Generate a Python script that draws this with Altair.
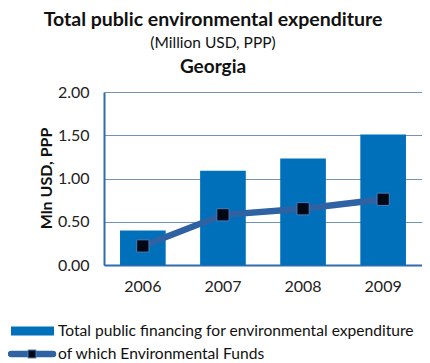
import altair as alt
import pandas as pd

years = ["2006", "2007", "2008", "2009"]
total_financing = [0.40, 1.09, 1.23, 1.51]
env_funds = [0.22, 0.58, 0.65, 0.76]
y_ticks = [0.0, 0.5, 1.0, 1.5, 2.0]

title_main = "Total public environmental expenditure"
title_sub = "(Million USD, PPP)"
title_country = "Georgia"
y_title = "Mln USD, PPP"
legend_bar = "Total public financing for environmental expenditure"
legend_line = "of which Environmental Funds"

FONT = "Lato"
BAR = "#0070BA"
LINE = "#2E62A3"
GRID = "#6F93BD"
AXIS = "#2F6BAE"

df = pd.DataFrame({"year": years, "total": total_financing, "funds": env_funds})

x = alt.X("year:N", title=None,
          scale=alt.Scale(paddingInner=0.43, paddingOuter=0.2),
          axis=alt.Axis(labelAngle=0, labelFontSize=16, labelFont=FONT, labelColor="#222",
                        labelPadding=13, ticks=False, domainColor=AXIS, domainWidth=2))
y_axis = alt.Axis(values=y_ticks, format=".2f", labelFontSize=16, labelFont=FONT,
                  labelColor="#222", labelPadding=15, ticks=False,
                  domainColor=AXIS, domainWidth=2, gridColor=GRID, gridWidth=1.2,
                  title=y_title, titleFont=FONT, titleFontSize=16, titleFontWeight="bold",
                  titleColor="#111", titleAngle=-90, titleX=-58, titleY=86,
                  titleAlign="center", titleBaseline="middle")
yscale = alt.Scale(domain=[0, 2])

bars = alt.Chart(df).mark_bar(color=BAR).encode(
    x=x, y=alt.Y("total:Q", scale=yscale, axis=y_axis))

line = alt.Chart(df).mark_line(color=LINE, strokeWidth=6.5).encode(
    x=alt.X("year:N"), y=alt.Y("funds:Q", scale=yscale))

pts = alt.Chart(df).mark_point(shape="square", filled=True, fill="#020716",
                               stroke="#4A7EBB", strokeWidth=1, opacity=1, size=150).encode(
    x=alt.X("year:N"), y=alt.Y("funds:Q", scale=yscale))

def txt(t, xv, yv, size, weight="normal", align="center", baseline="middle"):
    return alt.Chart(pd.DataFrame({"t": [t]})).mark_text(
        font=FONT, fontSize=size, fontWeight=weight, color="#111",
        align=align, baseline=baseline).encode(
        text="t:N", x=alt.value(xv), y=alt.value(yv))

titles = [
    txt(title_main, 109, -72, 19.5, "bold"),
    txt(title_sub, 109, -49, 15.5),
    txt(title_country, 109, -25, 19, "bold"),
    txt(legend_bar, -46, 239, 15.6, align="left"),
    txt(legend_line, -46, 262, 15.6, align="left"),
]

leg_rect = alt.Chart(pd.DataFrame({"a": [0]})).mark_rect(color=BAR).encode(
    x=alt.value(-93), x2=alt.value(-50), y=alt.value(234.5), y2=alt.value(243.5))
leg_line = alt.Chart(pd.DataFrame({"a": [0]})).mark_rule(
    color=LINE, strokeWidth=6.5, strokeCap="round").encode(
    x=alt.value(-93), x2=alt.value(-51), y=alt.value(262))
leg_pt = alt.Chart(pd.DataFrame({"a": [0]})).mark_point(
    shape="square", filled=True, fill="#020716", stroke="#4A7EBB",
    strokeWidth=1, opacity=1, size=64).encode(x=alt.value(-72), y=alt.value(262))

chart = alt.layer(bars, line, pts, leg_rect, leg_line, leg_pt, *titles).properties(
    width=318, height=173,
    autosize=alt.AutoSizeParams(type="none"),
    padding={"left": 96, "top": 84, "right": 0, "bottom": 96},
).configure_view(stroke=None).configure_axis(gridOpacity=1)

chart.save("out.html", embed_options={"renderer": "svg", "actions": False})
